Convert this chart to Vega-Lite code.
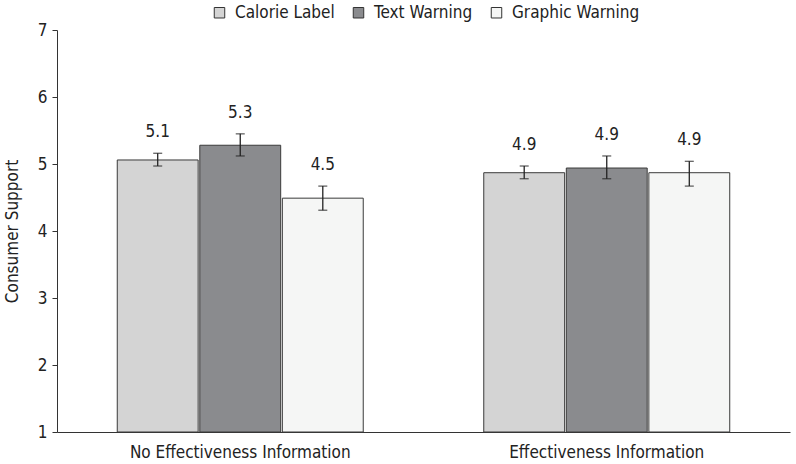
{
  "$schema": "https://vega.github.io/schema/vega-lite/v6.json",
  "autosize": "none",
  "width": 733,
  "height": 402,
  "padding": {"left": 57, "top": 30, "right": 6, "bottom": 32},
  "background": "white",
  "config": {
    "font": "Liberation Sans Narrow, DejaVu Sans Condensed, Roboto, sans-serif",
    "view": {"stroke": null}
  },
  "data": {
    "values": [
      {"info": "No Effectiveness Information", "cond": "Calorie Label", "mean": 5.06, "lo": 4.97, "hi": 5.16, "label": "5.1"},
      {"info": "No Effectiveness Information", "cond": "Text Warning", "mean": 5.28, "lo": 5.12, "hi": 5.45, "label": "5.3"},
      {"info": "No Effectiveness Information", "cond": "Graphic Warning", "mean": 4.49, "lo": 4.31, "hi": 4.67, "label": "4.5"},
      {"info": "Effectiveness Information", "cond": "Calorie Label", "mean": 4.87, "lo": 4.78, "hi": 4.97, "label": "4.9"},
      {"info": "Effectiveness Information", "cond": "Text Warning", "mean": 4.94, "lo": 4.78, "hi": 5.12, "label": "4.9"},
      {"info": "Effectiveness Information", "cond": "Graphic Warning", "mean": 4.87, "lo": 4.67, "hi": 5.04, "label": "4.9"}
    ]
  },
  "encoding": {
    "x": {
      "field": "info", "type": "nominal",
      "sort": ["No Effectiveness Information", "Effectiveness Information"],
      "scale": {"paddingInner": 0, "paddingOuter": 0},
      "axis": {"title": null, "labelAngle": 0, "ticks": false, "labelFontSize": 17, "labelLimit": 0, "labelColor": "#222", "labelPadding": 12, "domainColor": "#333"}
    },
    "xOffset": {
      "field": "cond", "type": "nominal",
      "sort": ["Calorie Label", "Text Warning", "Graphic Warning"],
      "scale": {"paddingInner": 0.02, "paddingOuter": 0.73}
    }
  },
  "layer": [
    {
      "mark": {"type": "bar", "stroke": "#3a3a3a", "strokeWidth": 1},
      "encoding": {
        "y": {
          "field": "mean", "type": "quantitative",
          "scale": {"domain": [1, 7], "nice": false, "zero": false},
          "axis": {"title": "Consumer Support", "titleFontSize": 17, "titleFontWeight": "normal", "titleColor": "#222", "titlePadding": 16, "values": [1,2,3,4,5,6,7], "format": "d", "grid": false, "labelFontSize": 17, "labelColor": "#222", "tickColor": "#333", "domainColor": "#333", "tickSize": 5, "labelPadding": 5}
        },
        "y2": {"datum": 1},
        "fill": {
          "field": "cond", "type": "nominal",
          "sort": ["Calorie Label", "Text Warning", "Graphic Warning"],
          "scale": {"domain": ["Calorie Label", "Text Warning", "Graphic Warning"], "range": ["#d4d4d4", "#8a8b8e", "#f5f6f5"]},
          "legend": {
            "title": null, "orient": "none", "direction": "horizontal",
            "legendX": 154, "legendY": -26,
            "symbolType": "square", "symbolSize": 110, "symbolStrokeColor": "#333", "symbolStrokeWidth": 1,
            "labelFontSize": 17, "labelColor": "#222", "columnPadding": 15, "labelOffset": 7
          }
        }
      }
    },
    {
      "mark": {"type": "rule", "color": "#222", "strokeWidth": 1.3},
      "encoding": {
        "y": {"field": "lo", "type": "quantitative"},
        "y2": {"field": "hi"}
      }
    },
    {
      "mark": {"type": "tick", "color": "#222", "thickness": 1.3, "size": 9},
      "encoding": {"y": {"field": "lo", "type": "quantitative"}}
    },
    {
      "mark": {"type": "tick", "color": "#222", "thickness": 1.3, "size": 9},
      "encoding": {"y": {"field": "hi", "type": "quantitative"}}
    },
    {
      "mark": {"type": "text", "baseline": "bottom", "dy": -12, "fontSize": 17, "color": "#222"},
      "encoding": {
        "y": {"field": "hi", "type": "quantitative"},
        "text": {"field": "label"}
      }
    }
  ]
}
